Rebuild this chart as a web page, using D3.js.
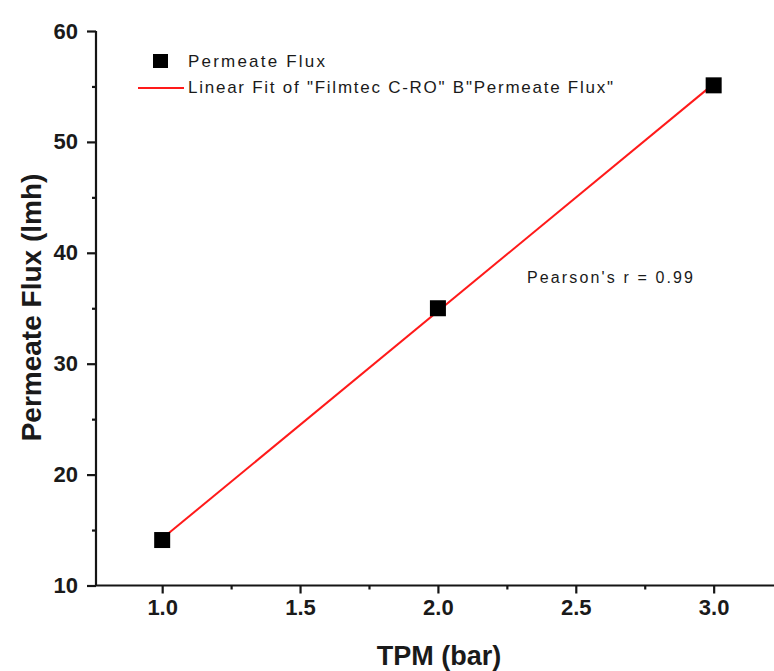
<!DOCTYPE html>
<html>
<head>
<meta charset="utf-8">
<script src="https://cdn.jsdelivr.net/npm/d3@7"></script>
<style>
  html, body { margin: 0; padding: 0; background: #fff; }
  svg { display: block; }
  text { font-family: "Liberation Sans", Arial, sans-serif; fill: #1a1a1a; }
</style>
</head>
<body>
<svg id="chart" width="774" height="671"></svg>
<script>
// Measured permeate flux against trans-membrane pressure
const tpm = [1.0, 2.0, 3.0];
const flux = [14.1, 35.0, 55.1];

const xTicks = [1.0, 1.5, 2.0, 2.5, 3.0];
const xMinor = [1.25, 1.75, 2.25, 2.75];
const yTicks = [10, 20, 30, 40, 50, 60];
const yMinor = [15, 25, 35, 45, 55];

const legendLabels = ["Permeate Flux", "Linear Fit of \"Filmtec C-RO\" B\"Permeate Flux\""];
const statLabel = "Pearson's r = 0.99";
const xTitle = "TPM (bar)";
const yTitle = "Permeate Flux (lmh)";

const svg = d3.select("#chart");
const ink = "#151515";

const x = d3.scaleLinear().domain([0.76, 3.25]).range([96, 782.6]);
const y = d3.scaleLinear().domain([10, 60]).range([585.5, 31]);

// least-squares line through the measurements
const mx = d3.mean(tpm), my = d3.mean(flux);
const slope = d3.sum(tpm, (t, i) => (t - mx) * (flux[i] - my)) / d3.sum(tpm, t => (t - mx) * (t - mx));
const icpt = my - slope * mx;
const fitX = d3.extent(tpm);
const fit = fitX.map(t => [t, icpt + slope * t]);

// axes
const xAxis = svg.append("g").attr("transform", `translate(0,${y(10)})`)
  .call(d3.axisBottom(x).tickValues(xTicks).tickFormat(d3.format(".1f")).tickSize(8).tickPadding(6));
xAxis.select(".domain").attr("d", `M${x.range()[0]},0H${x.range()[1]}`);
const xMin = svg.append("g").attr("transform", `translate(0,${y(10)})`)
  .call(d3.axisBottom(x).tickValues(xMinor).tickFormat("").tickSize(4));
xMin.select(".domain").remove();

const yAxis = svg.append("g").attr("transform", `translate(${x(0.76)},0)`)
  .call(d3.axisLeft(y).tickValues(yTicks).tickFormat(d3.format("d")).tickSize(9).tickPadding(9));
yAxis.select(".domain").attr("d", `M0,${y(60)}V${y(10)}`);
const yMin = svg.append("g").attr("transform", `translate(${x(0.76)},0)`)
  .call(d3.axisLeft(y).tickValues(yMinor).tickFormat("").tickSize(4));
yMin.select(".domain").remove();

svg.selectAll(".domain, .tick line").attr("stroke", ink).attr("stroke-width", 2.2);
xAxis.selectAll(".tick text").attr("font-size", 22).attr("font-weight", "bold")
  .attr("font-family", "Liberation Sans, Arial, sans-serif").attr("fill", ink);
yAxis.selectAll(".tick text").attr("font-size", 22).attr("font-weight", "bold")
  .attr("font-family", "Liberation Sans, Arial, sans-serif").attr("fill", ink);

// fitted line
svg.append("path")
  .datum(fit)
  .attr("d", d3.line().x(d => x(d[0])).y(d => y(d[1])))
  .attr("fill", "none").attr("stroke", "#ff1a1a").attr("stroke-width", 2);

// data markers
const ms = 16;
svg.selectAll("rect.pt").data(tpm).enter().append("rect")
  .attr("class", "pt")
  .attr("x", (t) => x(t) - ms / 2)
  .attr("y", (t, i) => y(flux[i]) - ms / 2)
  .attr("width", ms).attr("height", ms)
  .attr("fill", "#000");

// legend
const lg = svg.append("g");
lg.append("rect").attr("x", 153).attr("y", 54).attr("width", 15).attr("height", 14).attr("fill", "#000");
lg.append("text").attr("x", 188).attr("y", 67).attr("font-size", 17)
  .attr("textLength", 137).attr("lengthAdjust", "spacing").text(legendLabels[0]);
lg.append("line").attr("x1", 138).attr("x2", 184).attr("y1", 88).attr("y2", 88)
  .attr("stroke", "#ff1a1a").attr("stroke-width", 2);
lg.append("text").attr("x", 188).attr("y", 93).attr("font-size", 17)
  .attr("textLength", 425).attr("lengthAdjust", "spacing").text(legendLabels[1]);

// statistic
svg.append("text").attr("x", 527).attr("y", 283).attr("font-size", 16)
  .attr("textLength", 166).attr("lengthAdjust", "spacing").text(statLabel);

// axis titles
svg.append("text").attr("x", 439).attr("y", 665).attr("text-anchor", "middle")
  .attr("font-size", 27).attr("font-weight", "bold").text(xTitle);
svg.append("text").attr("transform", "translate(41,307.5) rotate(-90)")
  .attr("text-anchor", "middle").attr("font-size", 28).attr("font-weight", "bold").text(yTitle);
</script>
</body>
</html>
